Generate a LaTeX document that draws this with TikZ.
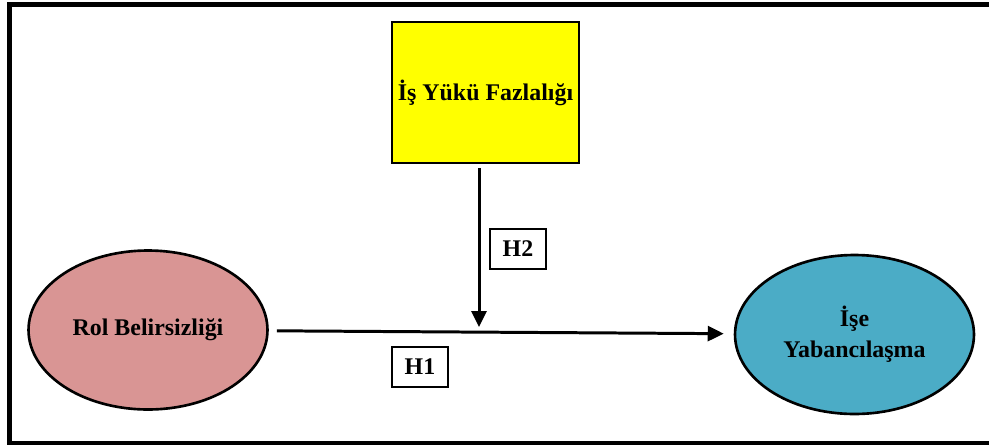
\documentclass[tikz,border=0pt]{standalone}
\usepackage{fontspec}
\setmainfont{Liberation Serif}
\usetikzlibrary{arrows.meta, positioning, shapes.geometric}
\definecolor{loadyellow}{HTML}{FFFF00}
\definecolor{rolepink}{HTML}{D99594}
\definecolor{alienblue}{HTML}{4BACC6}

\begin{document}
\begin{tikzpicture}[
    x=0.02cm, y=-0.02cm,
    every node/.style={font=\fontsize{13.6}{17.6}\selectfont\bfseries},
    box/.style={draw, line width=1.5pt, minimum width=3.7cm, minimum height=2.82cm, align=center},
    oval/.style={ellipse, draw, line width=1.5pt, minimum width=4.78cm, minimum height=3.18cm, align=center, inner sep=0pt},
    hyp/.style={draw, line width=1.3pt, minimum width=1.12cm, minimum height=0.8cm, inner sep=0pt},
    arrow/.style={-{Triangle[length=3.2mm, width=3mm]}, line width=1.7pt},
]

\useasboundingbox (0,0) rectangle (989,447);

% Frame
\draw[line width=2.3pt] (9.5,4.5) rectangle (1000,443);

% Variables
\node[box, fill=loadyellow] (load) at (485.5,92.5) {İş Yükü Fazlalığı};
\node[oval, fill=rolepink] (role) at (148,330) {Rol Belirsizliği};
\node[oval, fill=alienblue] (alien) at (854.5,334.5) {İşe\\Yabancılaşma};

% Hypotheses
\node[hyp] (h1) at (420,367) {H1};
\node[hyp] (h2) at (518,249) {H2};

% Arrows
\coordinate (join) at (479,327);
\draw[arrow, shorten <=0.16cm, shorten >=0.2cm] (role) -- (alien);
\draw[arrow, shorten <=0.08cm] (load.south -| join) -- (join);

\end{tikzpicture}
\end{document}
